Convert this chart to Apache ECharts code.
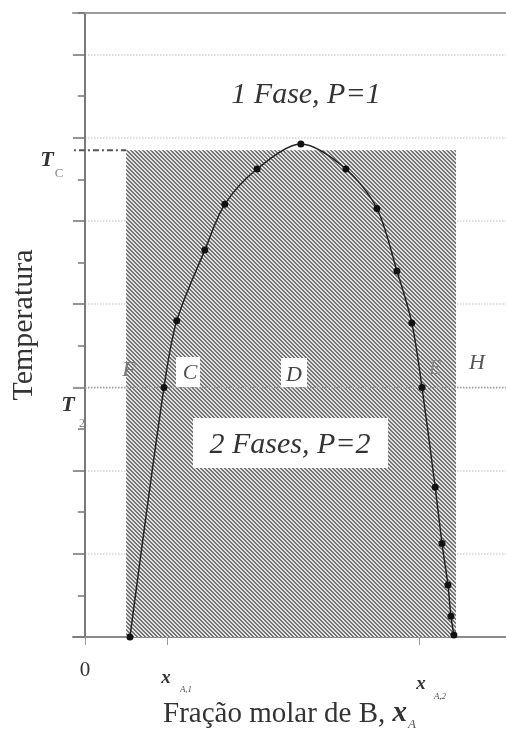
<!DOCTYPE html>
<html><head><meta charset="utf-8">
<script src="https://cdn.jsdelivr.net/npm/echarts@6/dist/echarts.min.js"></script>
<style>html,body{margin:0;padding:0;background:#fff}#c{width:506px;height:735px}</style>
</head><body><div id="c"></div>
<script>
// ---- data ----
const curveX = [0.106, 0.186, 0.216, 0.282, 0.329, 0.405, 0.508, 0.614, 0.687, 0.734, 0.769, 0.793, 0.824, 0.840, 0.854, 0.861, 0.868];
const curveY = [0.0, 6.0, 7.6, 9.3, 10.4, 11.25, 11.85, 11.25, 10.3, 8.8, 7.55, 6.0, 3.6, 2.25, 1.25, 0.5, 0.05];
const TC = 11.7;          // critical temperature
const T2 = 6;             // temperature T2
const twoPhaseX = [0.097, 0.873];   // hatched two-phase box, x extent
const tcLineX = [-0.047, 0.097];
const xA1 = 0.193, xA2 = 0.786;
const yMajorTicks = [0, 2, 4, 6, 8, 10, 12, 14];
const xTickValues = [0, xA1, xA2];
const xLabelValues = [0];

// ---- hatch pattern ----
const tile = document.createElement('canvas');
tile.width = 4; tile.height = 4;
const tctx = tile.getContext('2d');
tctx.fillStyle = '#e2e2e2'; tctx.fillRect(0, 0, 4, 4);
tctx.fillStyle = '#747474';
for (let y = 0; y < 4; y++) for (let x = 0; x < 4; x++) if ((((x - y) % 4) + 4) % 4 < 2) tctx.fillRect(x, y, 1, 1);

const SERIF = '"Liberation Serif", "DejaVu Serif", serif';
const chart = echarts.init(document.getElementById('c'), null, {renderer: 'canvas'});

function txt(text, x, y, size, opts) {
  opts = opts || {};
  return {
    type: 'text', z: 100,
    style: {
      text: text, x: x, y: y,
      font: (opts.style || '') + ' ' + size + 'px ' + SERIF,
      fill: opts.fill || '#333',
      align: opts.align || 'center', verticalAlign: 'middle'
    }
  };
}

const option = {
  animation: false,
  backgroundColor: '#fff',
  grid: {left: 73, top: 13, width: 437, height: 624, containLabel: false, outerBoundsMode: 'none'},
  xAxis: [{
    type: 'value', min: -0.028, max: 1,
    axisLine: {onZero: false, lineStyle: {color: '#8a8a8a', width: 2}},
    axisTick: {show: true, customValues: xTickValues, length: 8, lineStyle: {color: '#999', width: 1}},
    axisLabel: {show: false, customValues: xLabelValues},
    splitLine: {show: false}
  }, {
    type: 'value', min: -0.028, max: 1, position: 'top',
    axisLine: {show: true, onZero: false, lineStyle: {color: '#9a9a9a', width: 2}},
    axisTick: {show: false}, axisLabel: {show: false}, splitLine: {show: false}
  }],
  yAxis: [{
    type: 'value', min: 0, max: 15, interval: 1,
    axisLine: {show: true, onZero: true, lineStyle: {color: '#7a7a7a', width: 2}},
    axisTick: {show: true, length: 7, lineStyle: {color: '#777', width: 1.5}},
    axisLabel: {show: false}, splitLine: {show: false},
    name: 'Temperatura', nameLocation: 'middle', nameGap: 34, nameRotate: 90,
    nameTextStyle: {fontFamily: SERIF, fontSize: 30, color: '#333'}
  }, {
    type: 'value', min: 0, max: 15, interval: 2, position: 'left',
    axisLine: {show: false, onZero: true},
    axisTick: {show: true, length: 12, customValues: yMajorTicks, lineStyle: {color: '#777', width: 1.5}},
    axisLabel: {show: false},
    splitLine: {show: true, lineStyle: {type: 'dotted', color: '#d4d4d4', width: 1.5}}
  }],
  series: [{
    type: 'line', xAxisIndex: 0, yAxisIndex: 0, data: [], silent: true,
    markArea: {
      silent: true,
      itemStyle: {color: {image: tile, repeat: 'repeat'}},
      data: [[{coord: [twoPhaseX[0], 0]}, {coord: [twoPhaseX[1], TC]}]]
    }
  }, {
    type: 'line', xAxisIndex: 0, yAxisIndex: 0, symbol: 'none', z: 3,
    data: [[-0.028, T2], [1, T2]],
    lineStyle: {color: '#a0a0a0', width: 1.5, type: 'dotted'}
  }, {
    type: 'line', xAxisIndex: 0, yAxisIndex: 0, symbol: 'none', z: 3, clip: false,
    data: [[tcLineX[0], TC], [tcLineX[1], TC]],
    lineStyle: {color: '#555', width: 2, type: [6, 3, 2, 3]}
  }, {
    type: 'line', xAxisIndex: 0, yAxisIndex: 0, z: 5, smooth: 0.3,
    data: curveX.map((x, i) => [x, curveY[i]]),
    symbol: 'circle', symbolSize: 7,
    itemStyle: {color: '#111'},
    lineStyle: {color: '#222', width: 1.5}
  }],
  graphic: [
    {type: 'rect', z: 90, shape: {x: 193, y: 418, width: 195, height: 50}, style: {fill: '#fff'}},
    {type: 'rect', z: 90, shape: {x: 176, y: 357, width: 24, height: 30}, style: {fill: '#fff'}},
    {type: 'rect', z: 90, shape: {x: 281, y: 358, width: 26, height: 29}, style: {fill: '#fff'}},
    txt('1 Fase, P=1', 306, 95, 30, {style: 'italic'}),
    txt('2 Fases, P=2', 290, 445, 30, {style: 'italic'}),
    txt('F', 129, 370, 22, {style: 'italic', fill: '#777'}),
    txt('C', 190, 373, 22, {style: 'italic', fill: '#555'}),
    txt('D', 294, 375, 22, {style: 'italic', fill: '#444'}),
    txt('E', 435, 369, 20, {style: 'italic', fill: '#888'}),
    txt('H', 477, 363, 22, {style: 'italic', fill: '#555'}),
    txt('T', 47, 160, 22, {style: 'italic bold', fill: '#333'}),
    txt('C', 59, 174, 13, {style: '', fill: '#888'}),
    txt('T', 68, 405, 22, {style: 'italic bold', fill: '#333'}),
    txt('2', 82, 424, 12, {style: '', fill: '#888'}),
    txt('0', 85, 670, 21, {style: '', fill: '#333'}),
    txt('x', 166, 678, 19, {style: 'italic bold', fill: '#333'}),
    txt('A,1', 186, 690, 9, {style: 'italic', fill: '#555'}),
    txt('x', 421, 684, 19, {style: 'italic bold', fill: '#333'}),
    txt('A,2', 440, 697, 9, {style: 'italic', fill: '#555'}),
    {
      type: 'text', z: 100,
      style: {
        x: 163, y: 714, align: 'left', verticalAlign: 'middle',
        text: '{m|Fração molar de B, }{x|x}{s|A}',
        rich: {
          m: {font: '29px ' + SERIF, fill: '#333', lineHeight: 34, verticalAlign: 'middle'},
          x: {font: 'italic bold 29px ' + SERIF, fill: '#333', lineHeight: 34, verticalAlign: 'middle'},
          s: {font: 'italic 13px ' + SERIF, fill: '#555', lineHeight: 34, verticalAlign: 'bottom', padding: [0, 0, 0, 1]}
        }
      }
    }
  ]
};
chart.setOption(option);
</script>
</body></html>
